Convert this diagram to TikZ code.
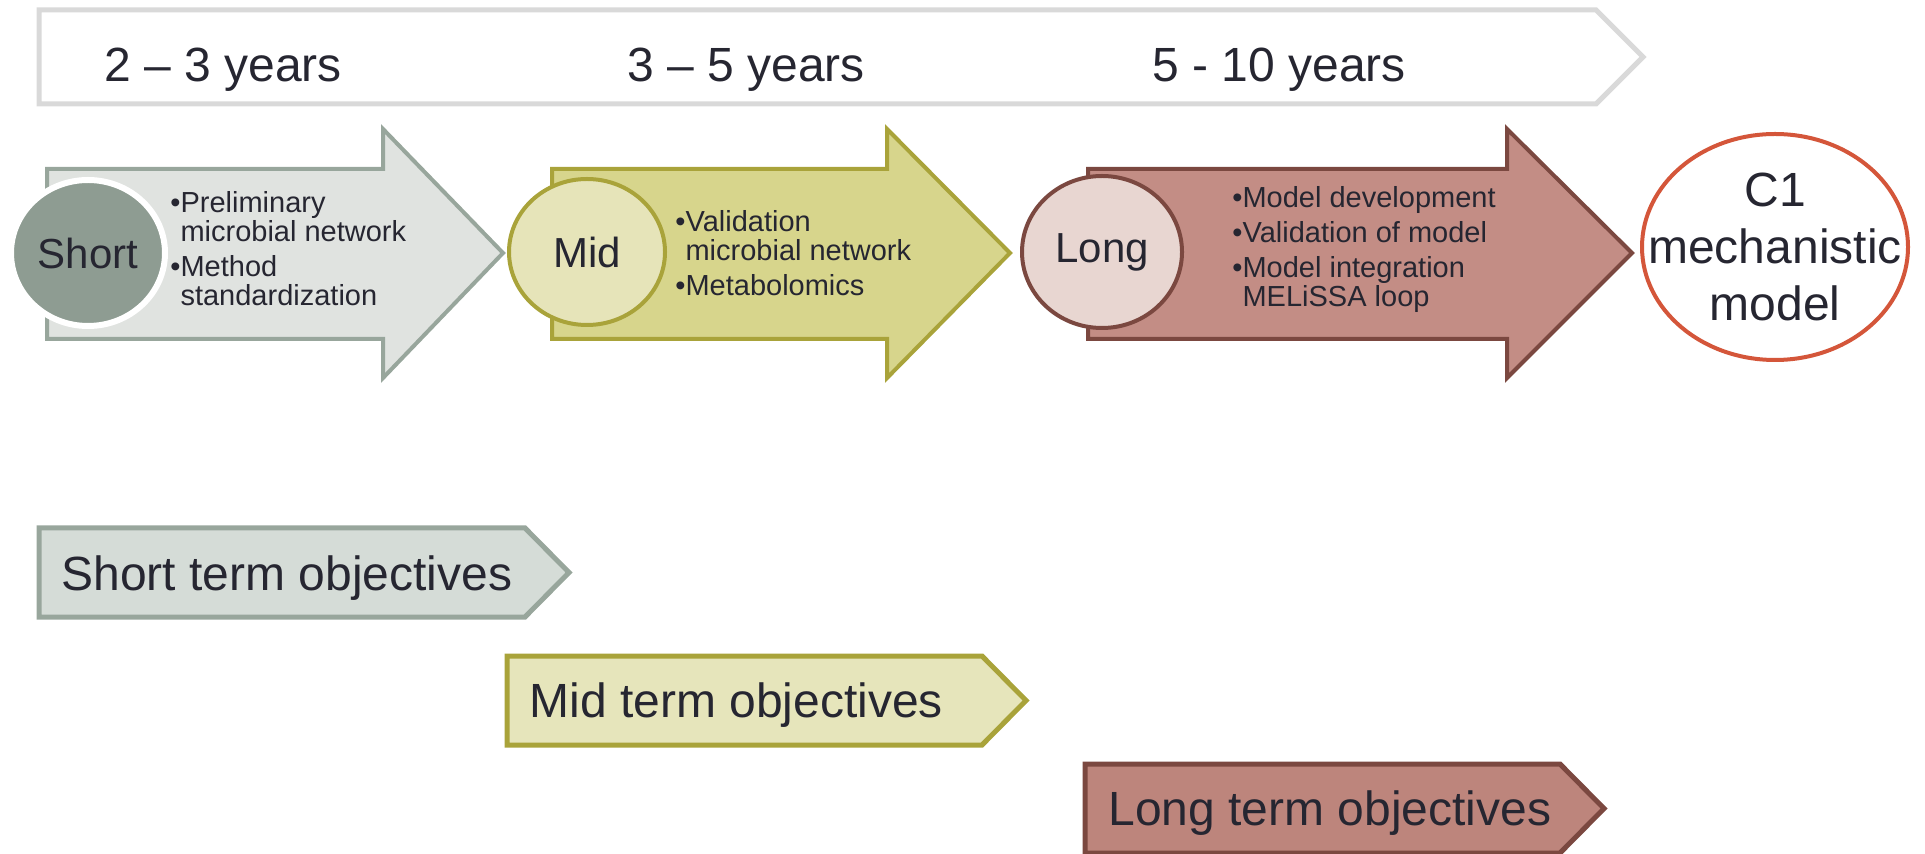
\documentclass[tikz,border=0pt]{standalone}
\usepackage{fontspec}
\setmainfont{Liberation Sans}
\usetikzlibrary{shapes.geometric}

\definecolor{txtdark}{HTML}{262631}
\definecolor{banner}{HTML}{D9D9D9}
\definecolor{lnshort}{HTML}{98A69C}
\definecolor{fillshort}{HTML}{E0E3E0}
\definecolor{discshort}{HTML}{8E9C92}
\definecolor{objshort}{HTML}{D5DCD7}
\definecolor{lnmid}{HTML}{A9A33A}
\definecolor{fillmid}{HTML}{D7D58C}
\definecolor{discmid}{HTML}{E6E4B9}
\definecolor{objmid}{HTML}{E6E5BB}
\definecolor{lnlong}{HTML}{7B4840}
\definecolor{filllong}{HTML}{C38D85}
\definecolor{disclong}{HTML}{E8D6D1}
\definecolor{objlong}{HTML}{BD857C}
\definecolor{lnmodel}{HTML}{D4563A}

\tikzset{
  phasedisc/.style={ellipse, line width=2pt, font=\fontsize{21}{24}\selectfont},
  bullettxt/.style={align=left, font=\fontsize{14.5}{14.5}\selectfont},
  yearlbl/.style={font=\fontsize{24}{28}\selectfont},
  objtxt/.style={font=\fontsize{24}{28}\selectfont}
}

\begin{document}
\begin{tikzpicture}[x=0.5pt, y=-0.5pt, every node/.style={text=txtdark, inner sep=0pt}]
  \useasboundingbox (0,0) rectangle (1925,854);

  % Draw time scale banner
  \draw[banner, line width=2.5pt, fill=white]
    (39,10) -- (1596,10) -- (1643,57) -- (1596,104) -- (39,104) -- cycle;
  \node[yearlbl, anchor=base west] (yshort) at (104,82) {2 – 3 years};
  \node[yearlbl, anchor=base west] (ymid) at (627,82) {3 – 5 years};
  \node[yearlbl, anchor=base west] (ylong) at (1152,82) {5 - 10 years};

  % Draw the three phase arrows
  \foreach \xl/\xn/\xt/\clr in {47/383/503/short, 552/887/1010/mid, 1088/1507/1632/long} {
    \draw[draw=ln\clr, fill=fill\clr, line width=2pt]
      (\xl,169) -- (\xn,169) -- (\xn,129) -- (\xt,253) -- (\xn,378) -- (\xn,339) -- (\xl,339) -- cycle;
  }

  % Phase discs
  \node[phasedisc, draw=white, line width=3pt, fill=discshort,
        minimum width=77pt, minimum height=73pt] (short) at (88,253) {Short};
  \node[phasedisc, draw=lnmid, fill=discmid,
        minimum width=78pt, minimum height=73pt] (mid) at (587,252) {Mid};
  \node[phasedisc, draw=lnlong, fill=disclong,
        minimum width=80pt, minimum height=76pt] (long) at (1102,252) {Long};

  % Bullet points of each phase
  \node[bullettxt, anchor=west] (shortpts) at (170,249)
    {\textbullet Preliminary\\\hphantom{\textbullet}microbial network\\[3pt]
     \textbullet Method\\\hphantom{\textbullet}standardization};
  \node[bullettxt, anchor=west] (midpts) at (675,253)
    {\textbullet Validation\\\hphantom{\textbullet}microbial network\\[3pt]
     \textbullet Metabolomics};
  \node[bullettxt, anchor=west] (longpts) at (1232,250)
    {\textbullet Model development\\[3pt]
     \textbullet Validation of model\\[3pt]
     \textbullet Model integration\\\hphantom{\textbullet}MELiSSA loop};

  % Final model
  \node[ellipse, draw=lnmodel, line width=2pt, fill=white,
        minimum width=133pt, minimum height=113pt] (model) at (1775,247) {};
  \node[align=center, font=\fontsize{24}{28.5}\selectfont] (modeltxt) at (model.center)
    {C1\\mechanistic\\model};

  % Objective tags
  \foreach \xl/\xr/\yt/\clr in {39/525/528/short, 507/982/656/mid, 1085/1560/764/long} {
    \draw[draw=ln\clr, fill=obj\clr, line width=2.5pt]
      (\xl,\yt) -- (\xr,\yt) -- (\xr+44,\yt+44.5) -- (\xr,\yt+89) -- (\xl,\yt+89) -- cycle;
  }
  \node[objtxt, anchor=base west] (objs) at (61,590) {Short term objectives};
  \node[objtxt, anchor=base west] (objm) at (529,717) {Mid term objectives};
  \node[objtxt, anchor=base west] (objl) at (1108,825) {Long term objectives};

\end{tikzpicture}
\end{document}
